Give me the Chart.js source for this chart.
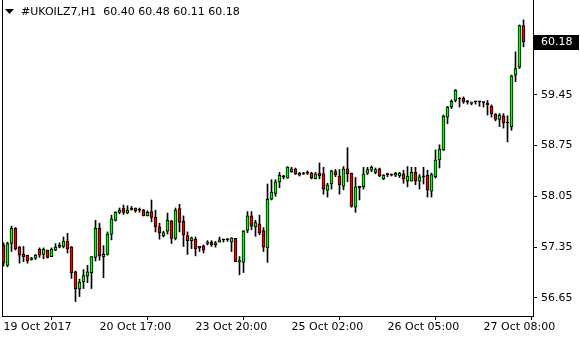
<!DOCTYPE html>
<html><head><meta charset="utf-8">
<script src="https://cdn.jsdelivr.net/npm/chart.js@4/dist/chart.umd.min.js"></script>
<style>html,body{margin:0;padding:0;background:#fff}#wrap{width:580px;height:340px;position:relative}</style>
</head><body><div id="wrap"><canvas id="c" width="580" height="340"></canvas></div>
<script>
const symbol = '#UKOILZ7,H1';
const opens = [57.38,57.10,57.40,57.61,57.35,57.25,57.24,57.18,57.20,57.32,
57.25,57.31,57.22,57.31,57.35,57.36,57.43,57.35,57.01,56.77,
56.87,56.95,57.00,57.21,57.61,57.22,57.25,57.53,57.72,57.83,
57.89,57.82,57.87,57.89,57.86,57.86,57.78,57.84,57.76,57.63,
57.51,57.57,57.71,57.47,57.88,57.71,57.51,57.44,57.46,57.36,
57.37,57.40,57.42,57.38,57.42,57.45,57.45,57.42,57.47,57.15,
57.14,57.58,57.78,57.63,57.67,57.58,57.34,58.01,58.09,58.25,
58.32,58.30,58.39,58.43,58.34,58.37,58.37,58.37,58.29,58.37,
58.36,58.13,58.22,58.39,58.33,58.19,58.43,58.37,57.90,58.19,
58.18,58.37,58.41,58.38,58.43,58.29,58.35,58.35,58.34,58.33,
58.36,58.26,58.26,58.38,58.26,58.32,58.34,58.12,58.32,58.55,
58.69,59.14,59.28,59.37,59.39,59.40,59.35,59.33,59.35,59.35,
59.34,59.33,59.29,59.18,59.11,59.16,59.06,59.01,59.72,59.83,
60.40];
const highs = [57.41,57.42,57.64,57.62,57.36,57.36,57.24,57.21,57.25,57.34,
57.34,57.31,57.34,57.40,57.41,57.49,57.54,57.36,57.02,56.91,
57.04,57.10,57.22,57.72,57.68,57.37,57.56,57.79,57.84,57.89,
57.93,57.92,57.91,57.89,57.89,57.87,57.85,58.00,57.86,57.68,
57.57,57.82,57.72,57.89,57.94,57.78,57.56,57.49,57.49,57.36,
57.38,57.44,57.44,57.43,57.49,57.46,57.47,57.48,57.47,57.22,
57.58,57.84,57.84,57.72,57.79,57.62,58.22,58.28,58.28,58.38,
58.34,58.46,58.45,58.44,58.38,58.38,58.40,58.38,58.38,58.51,
58.45,58.23,58.41,58.42,58.42,58.46,58.72,58.37,58.31,58.19,
58.45,58.45,58.47,58.44,58.44,58.35,58.37,58.36,58.38,58.38,
58.41,58.46,58.45,58.45,58.35,58.45,58.41,58.37,58.69,58.76,
59.17,59.29,59.38,59.52,59.41,59.42,59.37,59.35,59.36,59.36,
59.35,59.37,59.31,59.19,59.19,59.19,59.16,59.72,60.04,60.41,
60.48];
const lows = [57.09,57.08,57.29,57.31,57.13,57.15,57.13,57.17,57.18,57.21,
57.19,57.20,57.22,57.30,57.34,57.34,57.27,56.92,56.60,56.67,
56.78,56.86,56.78,57.16,57.17,56.93,57.24,57.45,57.71,57.81,
57.80,57.81,57.86,57.83,57.83,57.78,57.78,57.70,57.56,57.46,
57.49,57.53,57.40,57.45,57.56,57.36,57.25,57.33,57.23,57.29,
57.27,57.38,57.36,57.35,57.42,57.42,57.43,57.29,57.15,56.97,
57.00,57.55,57.59,57.50,57.52,57.29,57.14,58.00,58.05,58.17,
58.29,58.30,58.38,58.35,58.33,58.35,58.35,58.29,58.29,58.29,
58.08,58.04,58.15,58.32,58.08,58.14,58.25,57.90,57.83,58.00,
58.15,58.35,58.39,58.36,58.32,58.28,58.32,58.33,58.32,58.31,
58.23,58.18,58.26,58.21,58.15,58.22,58.04,58.04,58.30,58.44,
58.68,59.05,59.26,59.35,59.28,59.33,59.32,59.31,59.32,59.29,
59.28,59.17,59.14,59.09,59.01,58.99,58.80,58.96,59.63,59.81,
60.11];
const closes = [57.13,57.40,57.61,57.33,57.24,57.22,57.16,57.20,57.24,57.24,
57.32,57.21,57.32,57.35,57.38,57.43,57.33,57.00,56.78,56.87,
56.96,57.01,57.22,57.61,57.23,57.25,57.53,57.74,57.83,57.86,
57.83,57.86,57.87,57.85,57.86,57.78,57.83,57.76,57.63,57.55,
57.55,57.72,57.47,57.86,57.69,57.52,57.44,57.48,57.33,57.34,
57.31,57.42,57.38,57.41,57.45,57.45,57.45,57.48,57.15,57.16,
57.57,57.78,57.64,57.69,57.55,57.35,58.01,58.11,58.25,58.34,
58.32,58.45,58.43,58.36,58.37,58.36,58.37,58.30,58.36,58.33,
58.15,58.21,58.40,58.35,58.21,58.43,58.36,57.91,58.18,58.17,
58.36,58.42,58.45,58.42,58.33,58.34,58.35,58.34,58.37,58.37,
58.29,58.33,58.38,58.26,58.32,58.32,58.14,58.35,58.55,58.70,
59.16,59.28,59.36,59.51,59.39,59.35,59.35,59.34,59.35,59.35,
59.34,59.31,59.19,59.11,59.17,59.06,59.06,59.71,59.81,60.40,
60.18];
const tickBars = [0, 24, 48, 72, 96, 120];
const tickLabels = ['19 Oct 2017', '20 Oct 17:00', '23 Oct 20:00', '25 Oct 02:00', '26 Oct 05:00', '27 Oct 08:00'];
const priceTicks = [56.65, 57.35, 58.05, 58.75, 59.45];

const GREEN = '#00ff00';
const RED = '#f00000';
const FONT = {family: 'DejaVu Sans', size: 11};

const wickData = opens.map((o, i) => ({x: i, y: [lows[i], highs[i]]}));
const bodyData = opens.map((o, i) => ({x: i, y: [o, closes[i]]}));
const bodyColors = opens.map((o, i) => closes[i] > o ? GREEN : (closes[i] < o ? RED : '#000'));

const framePlugin = {
  id: 'frame',
  afterDraw(chart) {
    const {ctx, chartArea: a} = chart;
    ctx.save();
    ctx.strokeStyle = '#000';
    ctx.lineWidth = 1;
    ctx.beginPath();
    ctx.moveTo(a.left + 0.5, a.top);
    ctx.lineTo(a.left + 0.5, a.bottom + 1);
    ctx.stroke();
    // header
    ctx.fillStyle = '#000';
    ctx.beginPath();
    ctx.moveTo(5, 9); ctx.lineTo(14, 9); ctx.lineTo(9.5, 14); ctx.closePath();
    ctx.fill();
    ctx.font = '11px "DejaVu Sans"';
    ctx.textBaseline = 'middle';
    ctx.textAlign = 'left';
    const n = opens.length - 1;
    const hdr = symbol + '  ' + [opens[n], highs[n], lows[n], closes[n]].map(v => v.toFixed(2)).join(' ');
    ctx.fillText(hdr, 21, 12.5);
    // current price box
    const y = chart.scales.y.getPixelForValue(closes[n]);
    const yy = Math.round(y);
    ctx.fillRect(a.right + 1, yy - 7, 45, 15);
    ctx.fillStyle = '#fff';
    ctx.fillText(closes[n].toFixed(2), a.right + 8, yy + 0.5);
    ctx.restore();
  }
};

function noPad(s) { s.paddingTop = 0; s.paddingBottom = 0; s.paddingLeft = 0; s.paddingRight = 0; }

new Chart(document.getElementById('c'), {
  type: 'bar',
  data: {
    datasets: [
      {data: wickData, backgroundColor: '#000', barThickness: 1, borderWidth: 0, grouped: false, order: 2},
      {data: bodyData, backgroundColor: bodyColors, borderColor: '#000', borderWidth: 1, borderSkipped: false,
       barThickness: 3, minBarLength: 1, grouped: false, order: 1}
    ]
  },
  options: {
    responsive: false,
    animation: false,
    devicePixelRatio: 1,
    layout: {padding: {left: 2, right: 0, top: 0, bottom: 0}},
    plugins: {legend: {display: false}, tooltip: {enabled: false}, title: {display: false}},
    scales: {
      x: {
        type: 'linear', min: -0.375, max: 132.375, offset: false,
        grid: {display: true, drawOnChartArea: false, drawTicks: true, tickLength: 4, color: '#000'},
        border: {display: true, color: '#000'},
        afterBuildTicks: s => { s.ticks = tickBars.map(v => ({value: v})); },
        afterFit: s => { s.height = 24; noPad(s); },
        ticks: {autoSkip: false, maxRotation: 0, minRotation: 0, align: 'start', padding: 1, color: '#000', font: FONT,
          callback: v => { const k = tickBars.indexOf(v); return k >= 0 ? tickLabels[k] : ''; }}
      },
      y: {
        position: 'right', min: 56.402, max: 60.754,
        grid: {display: true, drawOnChartArea: false, drawTicks: true, tickLength: 4, color: '#000'},
        border: {display: true, color: '#000'},
        afterBuildTicks: s => { s.ticks = priceTicks.map(v => ({value: v})); },
        afterFit: s => { s.width = 47; noPad(s); },
        ticks: {padding: 4, color: '#000', font: FONT, callback: v => v.toFixed(2)}
      }
    }
  },
  plugins: [framePlugin]
});
</script></body></html>
